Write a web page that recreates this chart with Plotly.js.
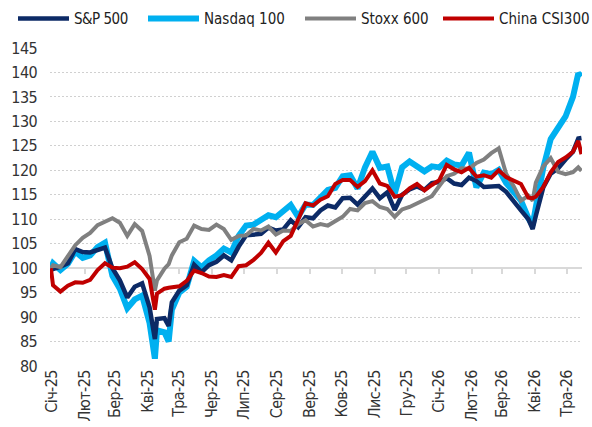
<!DOCTYPE html>
<html>
<head>
<meta charset="utf-8">
<script src="https://cdn.plot.ly/plotly-3.0.1.min.js"></script>
<style>
  html, body { margin: 0; padding: 0; background: #fff; }
  #chart { width: 592px; height: 427px; }
  .xtick text, .ytick text { letter-spacing: -0.6px; }
  .legendtext { letter-spacing: -0.5px; }
</style>
</head>
<body>
<div id="chart"></div>
<script>
// weekly points, index 31.12.2024 = 100
const dates = ['2024-12-31','2025-01-02','2025-01-09','2025-01-16','2025-01-23','2025-01-30','2025-02-06','2025-02-13','2025-02-20','2025-02-27',
  '2025-03-06','2025-03-13','2025-03-20','2025-03-27','2025-04-03','2025-04-08','2025-04-10','2025-04-17','2025-04-21','2025-04-24',
  '2025-05-01','2025-05-08','2025-05-15','2025-05-22','2025-05-29','2025-06-05','2025-06-12','2025-06-19','2025-06-26','2025-07-03',
  '2025-07-10','2025-07-17','2025-07-24','2025-07-31','2025-08-07','2025-08-14','2025-08-21','2025-08-28','2025-09-04','2025-09-11',
  '2025-09-18','2025-09-25','2025-10-02','2025-10-09','2025-10-16','2025-10-23','2025-10-30','2025-11-06','2025-11-13','2025-11-20',
  '2025-11-27','2025-12-04','2025-12-11','2025-12-18','2025-12-25','2026-01-01','2026-01-08','2026-01-15','2026-01-22','2026-01-29',
  '2026-02-05','2026-02-12','2026-02-19','2026-02-26','2026-03-05','2026-03-12','2026-03-19','2026-03-26','2026-03-30','2026-04-02',
  '2026-04-09','2026-04-16','2026-04-23','2026-04-30','2026-05-07','2026-05-12','2026-05-15'];

const sp500 = [100, 99.8, 100.3, 101.0, 103.9, 103.3, 103.2, 103.7, 104.2, 100.0,
  97.5, 94.0, 96.2, 96.9, 92.0, 85.5, 89.6, 89.8, 88.2, 93.0,
  95.4, 96.5, 100.7, 99.2, 100.6, 101.3, 102.6, 101.6, 104.4, 106.7,
  106.8, 107.0, 108.3, 107.7, 107.9, 109.8, 108.4, 110.4, 110.2, 111.8,
  112.8, 112.4, 114.3, 114.4, 113.0, 114.6, 116.3, 114.3, 115.5, 111.9,
  115.0, 116.1, 116.7, 116.0, 117.4, 117.6, 118.4, 117.3, 117.0, 118.5,
  117.8, 116.6, 116.8, 116.8, 115.6, 113.6, 111.8, 110.0, 108.0, 110.7,
  116.5, 119.3, 120.4, 122.2, 123.8, 126.5, 126.6];

const nasdaq100 = [100, 101.0, 99.6, 100.9, 103.4, 102.1, 102.6, 104.3, 105.2, 98.4,
  95.8, 91.8, 93.6, 94.4, 88.8, 81.5, 87.3, 86.9, 85.0, 91.5,
  95.0, 96.2, 101.5, 100.2, 101.6, 102.6, 104.0, 103.2, 106.6, 108.7,
  108.9, 109.8, 110.8, 110.4, 111.5, 112.9, 110.5, 113.0, 112.9, 114.5,
  116.0, 116.4, 118.8, 119.0, 116.3, 120.6, 123.8, 120.5, 120.8, 115.2,
  120.6, 121.8, 120.8, 119.8, 120.8, 120.6, 122.0, 121.2, 121.0, 123.6,
  116.5, 119.5, 119.2, 120.1, 117.4, 115.6, 113.8, 110.2, 108.8, 112.5,
  120.5, 126.4, 128.6, 131.0, 135.0, 139.8, 139.2];

const stoxx600 = [100, 100.6, 100.2, 102.6, 104.7, 106.2, 107.2, 108.8, 109.6, 110.2,
  109.3, 106.6, 109.0, 107.6, 102.5, 95.4, 97.5, 99.9, 100.8, 102.6,
  105.3, 106.0, 108.7, 108.0, 107.8, 108.9, 108.0, 105.8, 106.6, 106.7,
  108.0, 107.7, 108.5, 106.9, 107.7, 107.6, 109.0, 109.8, 108.5, 109.0,
  108.7, 109.5, 110.5, 112.1, 111.8, 113.3, 113.7, 112.5, 112.1, 110.5,
  112.0, 112.5, 113.2, 113.8, 114.7, 116.8, 118.8, 119.3, 120.4, 120.3,
  121.5, 122.2, 123.5, 124.5, 119.3, 116.8, 113.8, 114.8, 113.8, 117.5,
  120.8, 122.5, 119.7, 119.2, 119.6, 120.6, 119.9];

const csi300 = [100, 96.5, 95.2, 96.4, 97.1, 97.0, 97.6, 99.6, 101.0, 100.1,
  100.0, 100.3, 101.2, 99.8, 97.8, 91.5, 94.8, 95.8, 96.0, 96.1,
  96.3, 97.4, 99.5, 99.0, 98.3, 98.2, 98.6, 98.2, 100.4, 100.6,
  101.7, 103.1, 105.2, 103.2, 105.5, 106.6, 110.2, 113.3, 112.8, 114.0,
  114.7, 117.2, 118.0, 118.0, 116.6, 117.8, 120.0, 117.3, 116.8, 114.6,
  114.9, 116.3, 117.2, 115.9, 117.0, 118.0, 121.1, 120.2, 119.6, 120.5,
  118.7, 119.0, 118.5, 120.0, 118.6, 117.9, 117.2, 114.4, 114.3, 114.6,
  116.6, 119.6, 121.7, 122.6, 123.8, 126.0, 123.3];

const monthTicks = ['2025-01-01','2025-02-01','2025-03-01','2025-04-01','2025-05-01','2025-06-01','2025-07-01','2025-08-01','2025-09-01',
  '2025-10-01','2025-11-01','2025-12-01','2026-01-01','2026-02-01','2026-03-01','2026-04-01','2026-05-01'];
const monthLabels = ['Січ-25','Лют-25','Бер-25','Кві-25','Тра-25','Чер-25','Лип-25','Сер-25','Вер-25',
  'Ков-25','Лис-25','Гру-25','Січ-26','Лют-26','Бер-26','Кві-26','Тра-26'];

const FONT = '"DejaVu Sans Condensed", "Liberation Sans", sans-serif';
const xRange = ['2024-12-30 04:00', '2026-05-15 12:00'];

const traces = [
  {x: dates, y: nasdaq100, name: 'Nasdaq 100', mode: 'lines', line: {color: '#00b0f0', width: 6}, legend: 'legend2'},
  {x: dates, y: sp500, name: 'S&P 500', mode: 'lines', line: {color: '#0c2a66', width: 4.5}, legend: 'legend'},
  {x: dates, y: stoxx600, name: 'Stoxx 600', mode: 'lines', line: {color: '#808080', width: 4}, legend: 'legend3'},
  {x: dates, y: csi300, name: 'China CSI300', mode: 'lines', line: {color: '#c00000', width: 4}, legend: 'legend4'},
  {x: [], y: [], xaxis: 'x2', showlegend: false, hoverinfo: 'skip'}
];

// one legend box per series, so the row never wraps
function legendAt(px) {
  return {
    orientation: 'h',
    xref: 'container', yref: 'container',
    x: px / 592, xanchor: 'left',
    y: 0.995, yanchor: 'top',
    itemwidth: 51,
    bgcolor: 'rgba(0,0,0,0)',
    font: {family: FONT, size: 15, color: '#222222'}
  };
}

const layout = {
  width: 592,
  height: 427,
  margin: {l: 50, r: 10, t: 48, b: 61},
  paper_bgcolor: '#ffffff',
  plot_bgcolor: '#ffffff',
  font: {family: FONT, size: 16, color: '#333333'},
  hovermode: false,
  showlegend: true,
  legend: legendAt(13),
  legend2: legendAt(143),
  legend3: legendAt(300),
  legend4: legendAt(438),
  xaxis: {
    type: 'date',
    range: xRange,
    tickmode: 'array',
    tickvals: monthTicks,
    ticktext: monthLabels,
    tickangle: -90,
    ticks: '',
    showgrid: false,
    showline: false,
    zeroline: false,
    automargin: false,
    fixedrange: true
  },
  xaxis2: {
    type: 'date',
    range: xRange,
    overlaying: 'x',
    anchor: 'free',
    position: 20 / 65,
    showline: true,
    linecolor: '#d9d9d9',
    linewidth: 2,
    ticks: 'outside',
    ticklen: 5,
    tickwidth: 2,
    tickcolor: '#d9d9d9',
    tickmode: 'array',
    tickvals: monthTicks,
    showticklabels: false,
    showgrid: false,
    zeroline: false,
    layer: 'below traces'
  },
  yaxis: {
    range: [80, 145],
    tick0: 80,
    dtick: 5,
    showgrid: true,
    gridcolor: '#d0d0d0',
    griddash: '2px,2px',
    gridwidth: 1,
    zeroline: false,
    showline: false,
    ticks: '',
    ticklabelstandoff: 12,
    automargin: false,
    fixedrange: true
  }
};

Plotly.newPlot('chart', traces, layout, {displayModeBar: false, staticPlot: true});
</script>
</body>
</html>
